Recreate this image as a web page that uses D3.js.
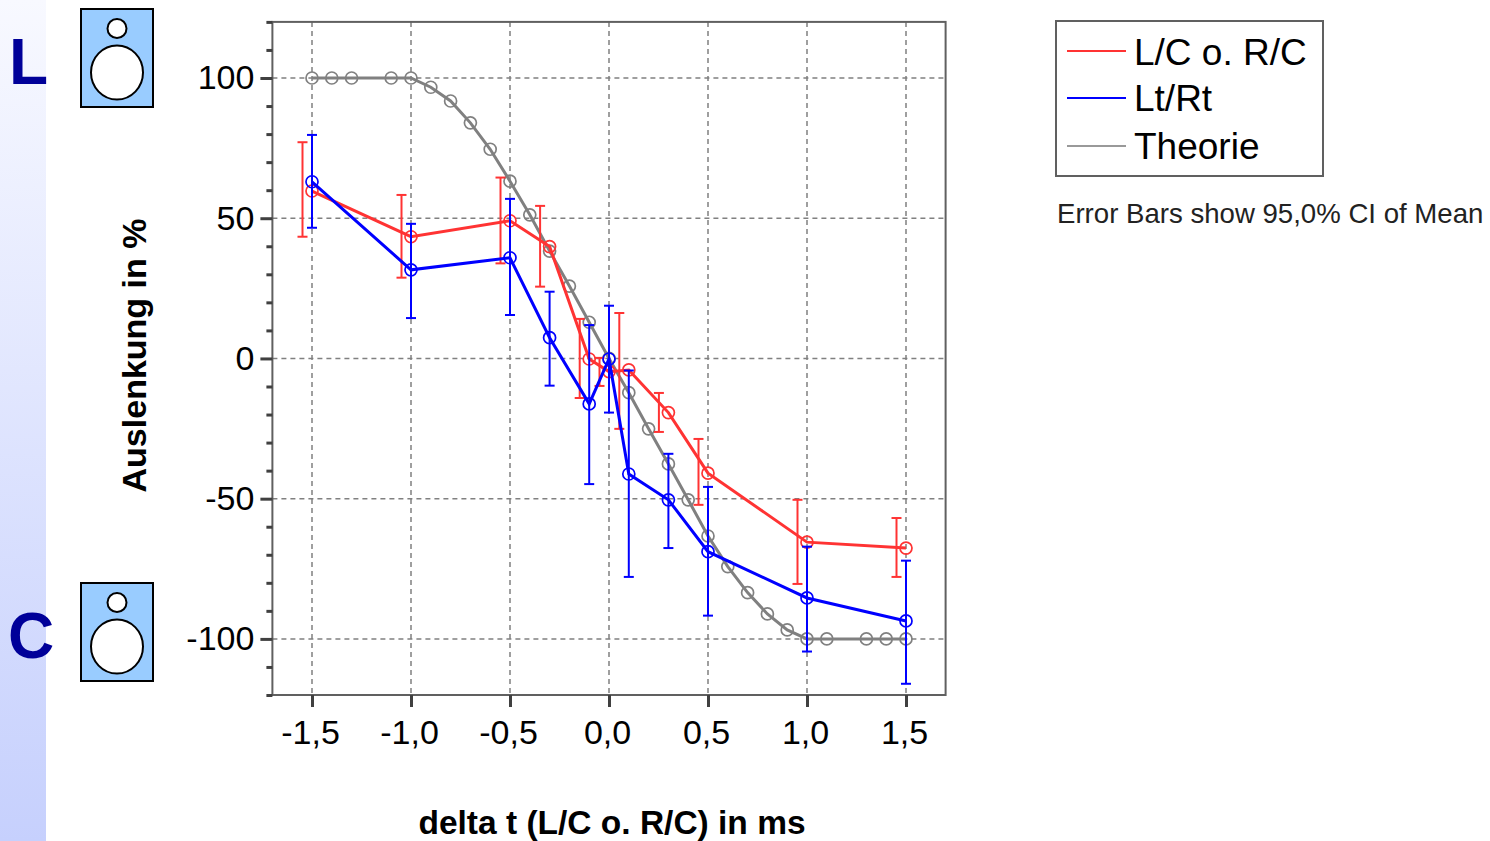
<!DOCTYPE html>
<html>

<head>
    <meta http-equiv="Content-Type" content="text/html; charset=utf-8" />
    <title>Auslenkung</title>
    <style type="text/css">
        * {
            margin: 0;
            padding: 0
        }

        html,
        body {
            width: 100%;
            height: 100%;
            background: #fff;
            overflow: hidden;
        }

        svg {
            display: block;
        }

        text {
            font-family: "Liberation Sans", Arial, sans-serif;
            fill: #000;
        }
    </style>
    <script src="https://cdn.jsdelivr.net/npm/d3@7"></script>
</head>

<body>
    <svg id="chart" width="1490" height="841"></svg>
    <script>
        // values
        const xTicks = [-1.5, -1, -0.5, 0, 0.5, 1, 1.5];
        const yMajor = [-100, -50, 0, 50, 100];
        const yMinor = [-120, -110, -90, -80, -70, -60, -40, -30, -20, -10, 10, 20, 30, 40, 60, 70, 80, 90, 110, 120];

        const measX = [-1.5, -1, -0.5, -0.3, -0.1, 0, 0.1, 0.3, 0.5, 1, 1.5];
        const redY = [59.7, 43.4, 49.1, 39.9, -0.2, -4.7, -4.1, -19.3, -40.9, -65.5, -67.6];
        const redHi = [77.1, 58.3, 64.5, 54.4, 14.1, 0.2, 16.2, -12.3, -28.7, -50.4, -56.9];
        const redLo = [43.4, 28.8, 33.9, 25.6, -14.1, -9.8, -25.1, -26.2, -52.2, -80.4, -77.9];
        const blueY = [63, 31.6, 35.9, 7.4, -16.2, -0.2, -41.2, -50.4, -68.9, -85.4, -93.6];
        const blueHi = [79.7, 48, 56.9, 23.8, 11.9, 18.8, -4.3, -34, -45.8, -67.1, -72.1];
        const blueLo = [46.6, 14.4, 15.5, -9.7, -44.8, -19.3, -77.9, -67.6, -91.7, -104.5, -116];

        const theoryX = [-1.5, -1.4, -1.3, -1.1, -1, -0.9, -0.8, -0.7, -0.6, -0.5, -0.4, -0.3, -0.2, -0.1, 0, 0.1, 0.2, 0.3, 0.4, 0.5, 0.6, 0.7, 0.8, 0.9, 1, 1.1, 1.3, 1.4, 1.5];
        const theoryY = [100, 100, 100, 100, 100, 96.7, 91.8, 84, 74.6, 63.2, 51.2, 38.3, 25.8, 12.9, 0, -12.2, -25.1, -37.6, -50.4, -63.3, -74.2, -83.5, -91.1, -96.8, -100, -100, -100, -100, -100];

        const legendLabels = ["L/C o. R/C", "Lt/Rt", "Theorie"];

        const RED = "#ff3333";
        const BLUE = "#0000ff";
        const GRAY = "#808080";
        const AXIS = "#606060";

        const svg = d3.select("#chart");
        const x = d3.scaleLinear().domain([-1.7, 1.7]).range([272.4, 945.6]);
        const y = d3.scaleLinear().domain([-120, 120]).range([695, 21.9]);
        // hyphen and decimal comma as in the original labels
        const comma = d => d.toFixed(1).replace(".", ",");
        const plain = d => String(d);

        // blue band on the left
        const grad = svg.append("defs").append("linearGradient")
            .attr("id", "band").attr("x1", 0).attr("y1", 0).attr("x2", 0).attr("y2", 1);
        grad.append("stop").attr("offset", 0).attr("stop-color", "#f8f9ff");
        grad.append("stop").attr("offset", 1).attr("stop-color", "#c6d0fd");
        svg.append("rect").attr("width", 46).attr("height", 841).attr("fill", "url(#band)");

        const letter = (txt, lx, ly) => {
            svg.append("text").attr("x", lx).attr("y", ly).text(txt)
                .style("font-size", "64px").style("font-weight", "bold").style("fill", "#000099");
        };
        letter("L", 9, 84);
        letter("C", 8, 658);

        const speaker = (top) => {
            const g = svg.append("g").attr("stroke", "#000").attr("stroke-width", 2);
            g.append("rect").attr("x", 81).attr("y", top).attr("width", 72).attr("height", 98).attr("fill", "#99ccff");
            g.append("circle").attr("cx", 117).attr("cy", top + 19.5).attr("r", 9.5).attr("fill", "#fff");
            g.append("ellipse").attr("cx", 117).attr("cy", top + 63.5).attr("rx", 26).attr("ry", 27).attr("fill", "#fff");
        };
        speaker(9);
        speaker(583);

        // grid
        const grid = svg.append("g").attr("stroke", GRAY).attr("stroke-width", 1.5).attr("stroke-dasharray", "5,4").attr("fill", "none");
        xTicks.forEach(d => {
            grid.append("line").attr("x1", x(d)).attr("x2", x(d)).attr("y1", y.range()[1]).attr("y2", y.range()[0]);
        });
        yMajor.forEach(d => {
            grid.append("line").attr("x1", x.range()[0]).attr("x2", x.range()[1]).attr("y1", y(d)).attr("y2", y(d));
        });

        // frame
        svg.append("rect")
            .attr("x", x.range()[0]).attr("y", y.range()[1])
            .attr("width", x.range()[1] - x.range()[0]).attr("height", y.range()[0] - y.range()[1])
            .attr("fill", "none").attr("stroke", AXIS).attr("stroke-width", 2);

        // axes
        const styleAxis = (g, w) => {
            g.select(".domain").remove();
            g.selectAll(".tick line").attr("stroke", "#404040").attr("stroke-width", w);
            g.selectAll("text").style("font-size", "34px").style("font-family", '"Liberation Sans", Arial, sans-serif').attr("fill", "#000");
        };
        svg.append("g").attr("transform", `translate(0,${y.range()[0]})`)
            .call(d3.axisBottom(x).tickValues(xTicks).tickSize(12).tickPadding(13).tickFormat(comma))
            .call(g => styleAxis(g, 3))
            .call(g => g.selectAll("text").attr("dx", -2));
        svg.append("g").attr("transform", `translate(${x.range()[0]},0)`)
            .call(d3.axisLeft(y).tickValues(yMajor).tickSize(12).tickPadding(6).tickFormat(plain))
            .call(g => styleAxis(g, 3));
        svg.append("g").attr("transform", `translate(${x.range()[0]},0)`)
            .call(d3.axisLeft(y).tickValues(yMinor).tickSize(6).tickFormat(""))
            .call(g => styleAxis(g, 3));

        svg.append("text").attr("x", 612).attr("y", 834).attr("text-anchor", "middle")
            .style("font-size", "33.5px").style("font-weight", "bold").text("delta t (L/C o. R/C) in ms");
        svg.append("text").attr("transform", "translate(146,355.5) rotate(-90)").attr("text-anchor", "middle")
            .style("font-size", "34px").style("font-weight", "bold").text("Auslenkung in %");

        const line = d3.line().x(d => x(d[0])).y(d => y(d[1]));

        const drawSeries = (xs, ys, color) => {
            const pts = d3.zip(xs, ys);
            const g = svg.append("g");
            g.append("path").attr("d", line(pts)).attr("fill", "none").attr("stroke", color).attr("stroke-width", 3);
            g.selectAll("circle").data(pts).join("circle")
                .attr("cx", d => x(d[0])).attr("cy", d => y(d[1])).attr("r", 6)
                .attr("fill", "none").attr("stroke", color).attr("stroke-width", 1.7);
        };

        const errorBars = (xs, hi, lo, color, dodge) => {
            const g = svg.append("g").attr("stroke", color).attr("stroke-width", 2).attr("fill", "none");
            xs.forEach((d, i) => {
                const px = x(d) + dodge;
                g.append("line").attr("x1", px).attr("x2", px).attr("y1", y(hi[i])).attr("y2", y(lo[i]));
                g.append("line").attr("x1", px - 5).attr("x2", px + 5).attr("y1", y(hi[i])).attr("y2", y(hi[i]));
                g.append("line").attr("x1", px - 5).attr("x2", px + 5).attr("y1", y(lo[i])).attr("y2", y(lo[i]));
            });
        };

        drawSeries(theoryX, theoryY, GRAY);
        errorBars(measX, redHi, redLo, RED, -9.5);
        drawSeries(measX, redY, RED);
        errorBars(measX, blueHi, blueLo, BLUE, 0);
        drawSeries(measX, blueY, BLUE);

        // legend
        svg.append("rect").attr("x", 1056).attr("y", 21).attr("width", 267).attr("height", 155)
            .attr("fill", "#fff").attr("stroke", AXIS).attr("stroke-width", 2);
        const legendColors = [RED, BLUE, "#999999"];
        const legendLine = [51, 98, 146];
        const legendBase = [65, 111, 159];
        legendLabels.forEach((label, i) => {
            svg.append("line").attr("x1", 1067).attr("x2", 1126).attr("y1", legendLine[i]).attr("y2", legendLine[i])
                .attr("stroke", legendColors[i]).attr("stroke-width", 2);
            svg.append("text").attr("x", 1134).attr("y", legendBase[i]).style("font-size", "37px").text(label);
        });
        svg.append("text").attr("x", 1057).attr("y", 223).style("font-size", "27.6px").style("fill", "#222")
            .text("Error Bars show 95,0% CI of Mean");
    </script>
</body>

</html>
